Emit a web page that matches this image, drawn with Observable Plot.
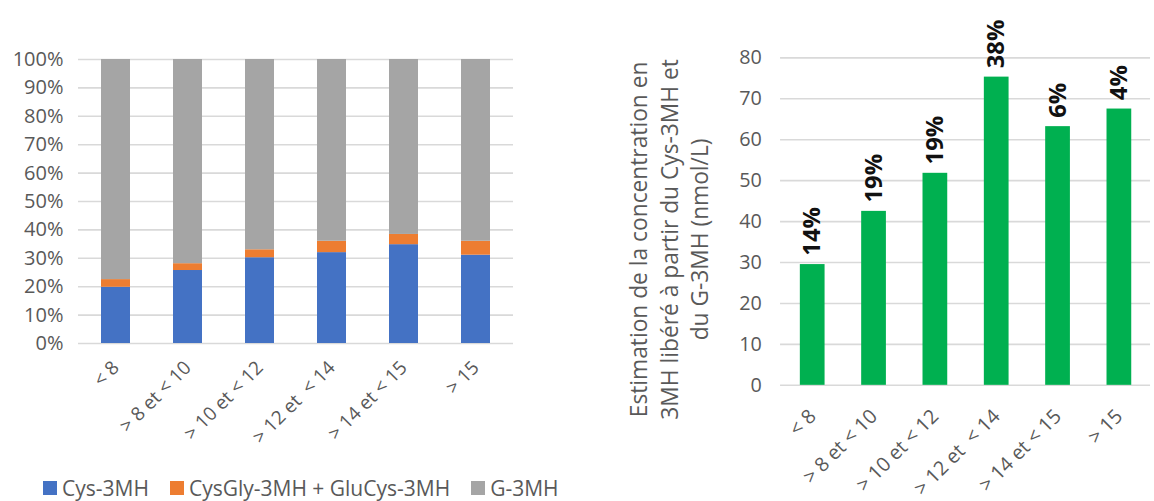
<!DOCTYPE html>
<html>
<head>
<meta charset="utf-8">
<script src="https://cdn.jsdelivr.net/npm/d3@7"></script>
<script src="https://cdn.jsdelivr.net/npm/@observablehq/plot@0.6"></script>
<style>
  html, body { margin: 0; padding: 0; background: #fff; overflow: hidden; }
  body { width: 1154px; height: 501px; position: relative; font-family: "Open Sans", sans-serif; }
  #left { position: absolute; left: 0; top: 0; }
  #right { position: absolute; left: 600px; top: 0; }
  #legend { position: absolute; left: 43px; top: 478px; height: 20px; line-height: 20px; display: flex; align-items: center; font-size: 21px; color: #595959; white-space: nowrap; }
  .item { display: flex; align-items: center; margin-right: 21px; }
  .sw { width: 14px; height: 14px; margin-right: 5px; }
</style>
</head>
<body>
<div id="left"></div>
<div id="legend"></div>
<div id="right"></div>
<script>
// ---- data ----
const categories = ["< 8", "> 8 et < 10", "> 10 et < 12", "> 12 et  < 14", "> 14 et < 15", "> 15"];
const seriesNames = ["Cys-3MH", "CysGly-3MH + GluCys-3MH", "G-3MH"];
const cys3mh = [0.198, 0.257, 0.302, 0.320, 0.348, 0.311];
const cysglyGlucys = [0.027, 0.024, 0.028, 0.040, 0.036, 0.049];
const g3mh = [0.775, 0.719, 0.670, 0.640, 0.616, 0.640];
const seriesColors = ["#4472C4", "#ED7D31", "#A5A5A5"];

const concentration = [29.5, 42.5, 51.8, 75.3, 63.2, 67.5];
const shareLabels = ["14%", "19%", "19%", "38%", "6%", "4%"];
const yTitleLines = ["Estimation de la concentration en", "3MH libéré à partir du Cys-3MH et", "du G-3MH (nmol/L)"];

// ---- left: 100% stacked bars ----
const seriesValues = [cys3mh, cysglyGlucys, g3mh];
const stacked = [];
seriesNames.forEach((s, si) => categories.forEach((c, ci) => stacked.push({cat: c, series: s, value: seriesValues[si][ci], order: si})));

const gray = "#595959";
const left = Plot.plot({
  width: 600, height: 460,
  marginLeft: 78, marginRight: 87, marginTop: 59, marginBottom: 117,
  style: {fontFamily: "Open Sans, sans-serif", fontSize: "20px", color: gray, background: "transparent"},
  x: {domain: categories, paddingInner: 0.6, paddingOuter: 0.3, label: null},
  y: {domain: [0, 1], label: null},
  color: {domain: seriesNames, range: seriesColors},
  marks: [
    Plot.gridY(d3.range(0, 1.0001, 0.1), {stroke: "#d9d9d9", strokeOpacity: 1, strokeWidth: 1.6}),
    Plot.axisY(d3.range(0, 1.0001, 0.1), {tickSize: 0, tickPadding: 15, tickFormat: d3.format(".0%"), fill: gray, fontSize: 20}),
    Plot.axisX({tickSize: 0, tickPadding: 21, tickRotate: -45, fill: gray, fontSize: 19}),
    Plot.barY(stacked, Plot.stackY({x: "cat", y: "value", fill: "series", order: "order"}))
  ]
});
document.getElementById("left").append(left);

// legend
const lg = document.getElementById("legend");
seriesNames.forEach((s, i) => {
  const it = document.createElement("div"); it.className = "item";
  const sw = document.createElement("div"); sw.className = "sw"; sw.style.background = seriesColors[i];
  const tx = document.createElement("span"); tx.textContent = s;
  it.append(sw, tx); lg.append(it);
});

// ---- right: green bars ----
const conc = categories.map((c, i) => ({cat: c, value: concentration[i], label: shareLabels[i]}));
const right = Plot.plot({
  width: 560, height: 501,
  marginLeft: 182, marginRight: 4, marginTop: 58, marginBottom: 112,
  style: {fontFamily: "Open Sans, sans-serif", fontSize: "20px", color: gray, background: "transparent", overflow: "visible"},
  x: {domain: categories, paddingInner: 0.6, paddingOuter: 0.3, label: null},
  y: {domain: [0, 80], label: null},
  marks: [
    Plot.gridY(d3.range(0, 81, 10), {stroke: "#d9d9d9", strokeOpacity: 1, strokeWidth: 1.6}),
    Plot.axisY(d3.range(0, 81, 10), {tickSize: 0, tickPadding: 19, fill: gray, fontSize: 20}),
    Plot.axisX({tickSize: 0, tickPadding: 28, tickRotate: -45, fill: gray, fontSize: 20}),
    Plot.barY(conc, {x: "cat", y: "value", fill: "#00B050"}),
    Plot.text(conc, {x: "cat", y: "value", text: "label", rotate: -90, textAnchor: "start", dy: -9, fontSize: 24, fontWeight: "bold", fill: "#111"}),
    Plot.text([yTitleLines.join("\n")], {frameAnchor: "left", textAnchor: "middle", rotate: -90, dx: -114, dy: 18, lineHeight: 1.35, fontSize: 23, fill: gray})
  ]
});
document.getElementById("right").append(right);
</script>
</body>
</html>
